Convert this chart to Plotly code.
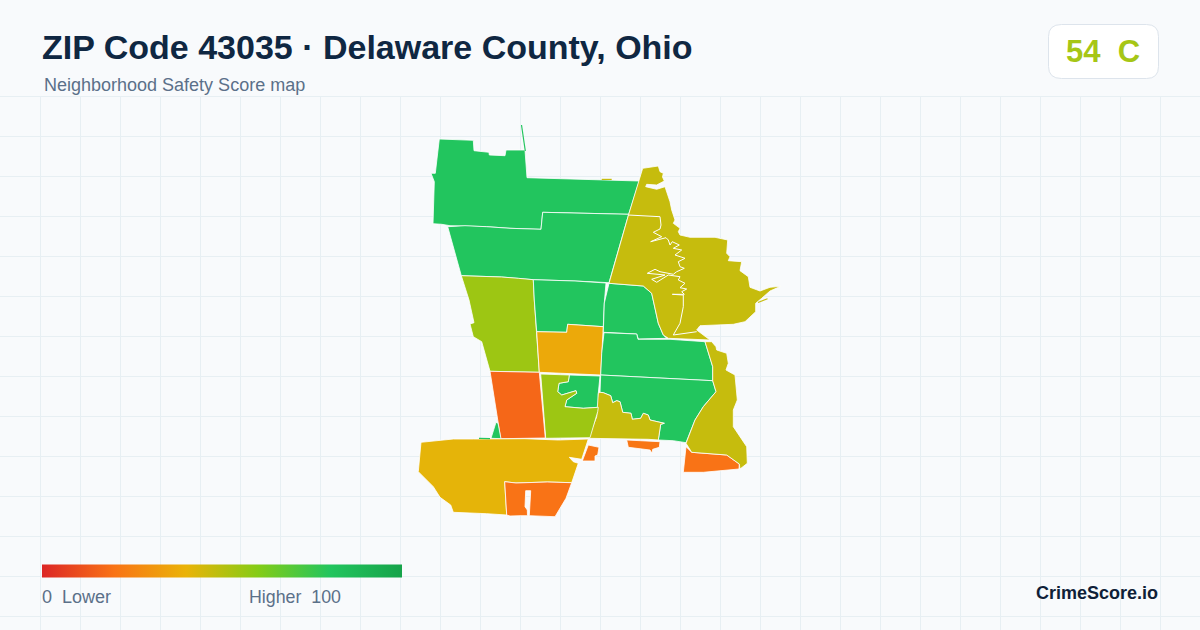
import plotly.graph_objects as go
from plotly.colors import sample_colorscale

TITLE = "ZIP Code 43035 · Delaware County, Ohio"
SUBTITLE = "Neighborhood Safety Score map"
GRADE = "54\u00a0\u00a0C"
BRAND = "CrimeScore.io"

color_stops = [[0, "#dc2626"], [0.2, "#f97316"], [0.4, "#eab308"], [0.6, "#84cc16"], [0.8, "#22c55e"], [1, "#16a34a"]]

north = [(439.3,139),(473.3,140.3),(474,150.7),(489,152.3),(489.3,155),(505,155.7),(506,150),(525,150),(527,177.7),(578.3,179),(601.7,180.3),(639.3,181),(628.7,214.3),(590,213.7),(560,212.7),(542.7,212.3),(541,229.3),(510,228.3),(486.7,226.7),(465,225.7),(450,225.7),(441.7,224.3),(433,223.7),(434.3,181.7),(431,173.3),(435.3,173.3)]
north_spike = [(521.5,125),(523,135),(525.3,151)]
second = [(447.7,226.7),(465,225.7),(486.7,226.7),(510,228.3),(541,229.3),(542.7,212.3),(560,212.7),(590,213.7),(628.7,214.3),(609,282.7),(575,281),(533.3,279.7),(518.3,278.3),(501.7,277),(461.3,275.7)]
west_lime = [(461.3,275.7),(501.7,277),(518.3,278.3),(533.3,279.7),(534.3,300),(536.7,331.7),(539.3,372.3),(490,371.3),(481.7,341.7),(473.3,336.7),(470,324),(474,322.7),(469,300)]
mid_green = [(533.3,279.7),(575,281),(606,283),(604.3,303),(603.3,326.7),(567.7,324.3),(566.7,332.3),(536.7,331.7),(534.3,300)]
amber = [(536.7,331.7),(566.7,332.3),(567.7,324.3),(603.3,326.7),(600.7,375),(570,374),(539.3,372.3)]
east_green_1 = [(609,283.3),(633.3,285),(643.3,286),(651.7,293.3),(658.3,323.3),(663.3,335),(666.7,338.3),(638.3,339),(636.7,334),(603.3,332.3),(604.3,303)]
east_green_2 = [(604,332.7),(636.7,334),(638,339.3),(670,339.3),(705,341.7),(712.7,366.7),(712.7,380.7),(680,379.3),(656.7,378.3),(633.3,376.7),(600.7,375),(601.7,353.3)]
east_green_3 = [(600.7,375),(633.3,376.7),(656.7,378.3),(680,379.3),(712.7,380.7),(716,391.7),(703.3,406.7),(695,420),(686,442.7),(673.3,440.7),(658.3,440),(660.7,424.3),(664.3,423.3),(650,420),(648.3,415),(643.3,413.3),(640.7,418.3),(632.3,419.3),(631,413.3),(622.7,412.3),(620,401.7),(616.7,400.7),(612.7,402.7),(610.7,395.7),(603.3,392.7),(600,392.3)]
hook_green = [(569.3,375),(600,376),(598.3,393.3),(598.3,407.3),(583.3,408.3),(565,406.7),(566.7,400),(576.7,393.3),(576,390.7),(561.7,395),(557.7,391.7),(559,383.3),(568.3,381.7)]
south_olive = [(600,392.3),(603.3,392.7),(610.7,395.7),(612.7,402.7),(616.7,400.7),(620,401.7),(622.7,412.3),(631,413.3),(632.3,419.3),(640.7,418.3),(643.3,413.3),(648.3,415),(650,420),(664.3,423.3),(660.7,424.3),(658.3,440),(648.3,439.3),(626.7,439),(603.3,438.3),(588.3,438.3),(596.7,416.7),(598.3,393.3)]
center_lime = [(540.7,374),(569.3,375),(568.3,381.7),(559,383.3),(557.7,391.7),(561.7,395),(576,390.7),(576.7,393.3),(566.7,400),(565,406.7),(583.3,408.3),(598.3,407.3),(597.7,411.7),(590,437.7),(545.7,438.3)]
red_orange = [(490,371.3),(539.3,372.3),(545.3,438),(500.7,438.7)]
sliver_green = [(491,438.3),(496,422.3),(498,423.3),(501,438.7)]
sliver_green_2 = [(479,438.4),(490,438.6)]
gold = [(421,442.3),(436.7,441),(453.3,439),(473.3,439),(525,438.7),(558.3,440),(588.3,439),(581.7,459.3),(569.3,457.3),(573.3,461.7),(578.3,463.3),(571.7,482.7),(547.3,482),(516,483),(504.7,481.7),(506.7,515),(486.7,513.7),(453.3,512.3),(450.7,505),(440,497.3),(433.3,486.7),(418.3,471.7)]
south_orange = [(504.7,481.7),(516,483),(547.3,482),(571.7,482.7),(566,498.3),(555,516.7),(529.3,515.7),(530.7,490.7),(525.7,490.7),(525,506.7),(527.3,510),(527.5,515.7),(520,515.7),(510,516),(506.7,515)]
small_orange = [(588.3,445),(599,447.3),(597.7,455),(595,456),(595,461),(582.3,461)]
mid_orange = [(626.7,440),(660,441.7),(659.3,447.3),(652.7,449.3),(652,453.3),(650,450),(628.3,447.3)]
se_orange = [(686,446.7),(691.7,452.3),(726.7,455),(739.3,464),(739,469),(703.3,472.3),(683.3,472.3)]
se_olive = [(705,341.7),(711.7,341.7),(716,346.7),(716.7,350),(726.7,353.3),(728.3,363.3),(726,370),(735,375),(737.3,400),(733.3,410),(733.3,426.7),(746.7,446.7),(747.3,463.3),(740,469),(739.3,464),(726.7,455),(691.7,452.3),(686,443.3),(695,420),(703.3,406.7),(716,391.7),(712.7,380.7),(712.7,366.7)]
ne_olive = [(642.7,168.3),(658.3,166),(660,171.7),(663.3,173.3),(662.5,177),(664.3,181),(656.7,185),(646.7,184.3),(645.7,186.7),(656.7,189.3),(665,186.7),(670,201.7),(671.7,210),(675,220),(673.3,223.3),(680,228.3),(678.3,231.7),(680,235),(690,237.3),(715,237.3),(727.7,240),(726.7,253.3),(730,256.7),(728.3,260.7),(741.7,261.7),(740,270.7),(748.3,276.7),(750,287.3),(760,291),(770,287.3),(780.7,286.3),(770,291),(761.7,298.3),(755.7,303.3),(755.7,311.7),(745,321.7),(733.3,324.3),(700,325.7),(696.7,330),(710,340),(668.3,338.3),(663.3,335),(658.3,323.3),(651.7,293.3),(643.3,286),(633.3,285),(609,283.3),(628.7,214.3),(639.3,181)]
coast_sliver = [(758,302.5),(767.5,298.8)]
north_sliver = [(601.7,179.4),(611.7,179.4)]
inner_boundary = [(628.3,215),(660,216.7),(661,225),(660,229),(653.3,232.3),(661.7,236.7),(650.7,241.7),(661.7,239),(666,237.7),(668.3,240),(670,245),(672.3,241.7),(679.3,245),(673.3,248.3),(681.7,250),(675,255),(685,258.3),(678.3,261.7),(680,266.7),(684.3,268.3),(676.7,271.7),(673.3,274.3),(660,271.7),(655,269.3),(647.3,273.3),(665,275),(651.7,279.3),(656.7,282.3),(668.3,275),(680,276.7),(678.3,280),(685,283.3),(680,287.7),(686.7,289),(681.7,291.7),(684.3,294.3),(672.3,294.3),(683.3,295),(683.3,306.7),(680,323.3),(673.3,335),(696.7,331.7)]

regions = [north, second, west_lime, mid_green, amber, east_green_1, east_green_2, east_green_3, hook_green,
           south_olive, center_lime, red_orange, sliver_green, gold, south_orange, small_orange,
           mid_orange, se_orange, se_olive, ne_olive]
scores = [80, 80, 55, 80, 37, 80, 80, 80, 80, 47, 55, 17, 80, 41, 20, 21, 21, 20, 47, 47]
fine_lines = [north_spike, sliver_green_2, north_sliver, coast_sliver]
fine_scores = [80, 80, 47, 47]

BG = "#f8fafc"
GRID = "#e7eff3"
fig = go.Figure()

for poly, score in zip(regions, scores):
    col = sample_colorscale(color_stops, [score / 100])[0]
    xs = [p[0] for p in poly] + [poly[0][0]]
    ys = [p[1] for p in poly] + [poly[0][1]]
    fig.add_trace(go.Scatter(x=xs, y=ys, mode="lines", fill="toself", fillcolor=col,
                             line=dict(color="#ffffff", width=0.8), hoverinfo="skip", showlegend=False))

for poly, score in zip(fine_lines, fine_scores):
    col = sample_colorscale(color_stops, [score / 100])[0]
    fig.add_trace(go.Scatter(x=[p[0] for p in poly], y=[p[1] for p in poly], mode="lines",
                             line=dict(color=col, width=1.2), hoverinfo="skip", showlegend=False))

fig.add_trace(go.Scatter(x=[p[0] for p in inner_boundary], y=[p[1] for p in inner_boundary], mode="lines",
                         line=dict(color="#ffffff", width=1), hoverinfo="skip", showlegend=False))

fig.add_trace(go.Scatter(x=[-100, -100], y=[-100, -100], mode="markers", showlegend=False, hoverinfo="skip",
                         marker=dict(color=[0, 100], cmin=0, cmax=100, colorscale=color_stops, showscale=True, size=1,
                                     colorbar=dict(orientation="h", lenmode="pixels", len=360, thickness=13,
                                                   x=42 / 1200, xanchor="left", y=1 - 571.2 / 630, yanchor="middle",
                                                   xpad=0, ypad=0, outlinewidth=0, ticks="", showticklabels=False,
                                                   borderwidth=0))))

def label(x, y, text, size, color, bold=False, anchor="left"):
    fig.add_annotation(x=x, y=y, xref="x", yref="y", text=f"<b>{text}</b>" if bold else text, showarrow=False,
                       xanchor=anchor, yanchor="middle", borderpad=0, borderwidth=0,
                       font=dict(family="Liberation Sans", size=size, color=color))

label(42, 47, TITLE, 34, "#0f2742", True)
label(44, 85, SUBTITLE, 18, "#5b7089")
label(1103, 51, GRADE, 31, "#a6c616", True, "center")
label(42, 597, "0\u00a0\u00a0Lower", 18, "#5b7089")
label(249, 597, "Higher\u00a0\u00a0100", 17.8, "#5b7089")
label(1158, 593, BRAND, 18, "#0f1f38", True, "right")

fig.update_layout(
    width=1200, height=630, margin=dict(l=0, r=0, t=0, b=0), paper_bgcolor=BG, plot_bgcolor=BG, autosize=False,
    xaxis=dict(range=[0, 1200], tick0=0, dtick=40, showgrid=True, gridcolor=GRID, gridwidth=1, zeroline=False,
               showticklabels=False, ticks="", fixedrange=True),
    yaxis=dict(range=[630, 0], tick0=16, dtick=40, showgrid=True, gridcolor=GRID, gridwidth=1, zeroline=False,
               showticklabels=False, ticks="", fixedrange=True),
    shapes=[
        dict(type="rect", xref="x", yref="y", x0=0, x1=1200, y0=0, y1=96, fillcolor=BG, line=dict(width=0), layer="between"),
        dict(type="path", xref="x", yref="y", layer="above", fillcolor="#ffffff", line=dict(color="#dde4ec", width=1),
             path="M1061.5,24.5 L1146.5,24.5 Q1158.5,24.5 1158.5,36.5 L1158.5,66.5 Q1158.5,78.5 1146.5,78.5 L1061.5,78.5 Q1048.5,78.5 1048.5,66.5 L1048.5,36.5 Q1048.5,24.5 1061.5,24.5 Z"),
    ],
)
fig.write_html("out.html", config={"displayModeBar": False},
               post_script="document.body.style.margin='0';document.body.style.overflow='hidden';")
